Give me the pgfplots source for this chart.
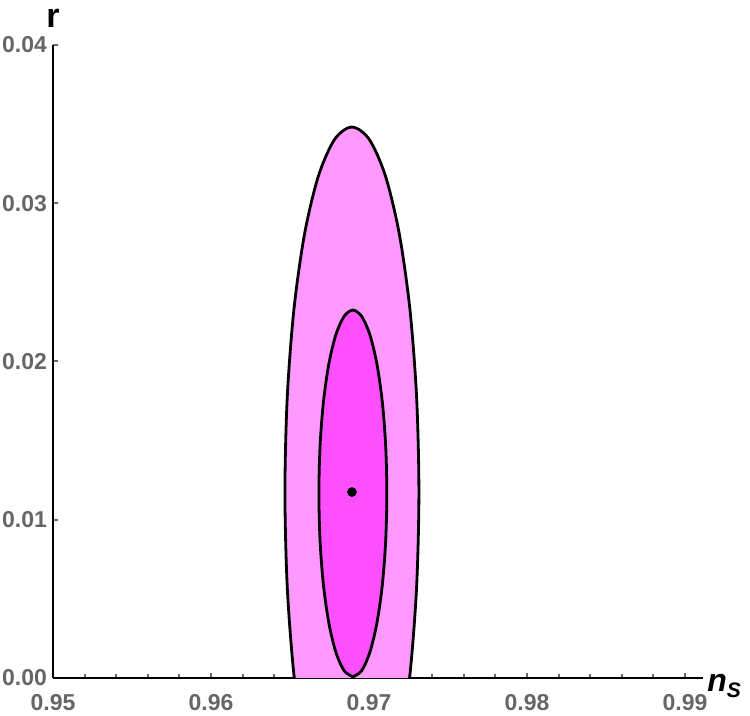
\documentclass[border=0pt]{standalone}
\usepackage{fontspec}
\setmainfont{Liberation Sans}
\usepackage{pgfplots}
\pgfplotsset{compat=1.18}
\definecolor{outerPink}{RGB}{255,153,255}
\definecolor{innerPink}{RGB}{255,80,255}
\definecolor{tickGray}{RGB}{102,102,102}

\begin{document}
\begin{tikzpicture}
\begin{axis}[
    scale only axis,
    width=325pt, height=316.5pt,
    xmin=0.95, xmax=0.99114,
    ymin=0, ymax=0.04,
    axis lines=left,
    axis line style={-, line width=1.4pt, black},
    xtick={0.95,0.96,0.97,0.98,0.99},
    ytick={0,0.01,0.02,0.03,0.04},
    minor x tick num=4,
    tick align=inside,
    major tick length=2.5pt,
    minor tick length=2pt,
    tick style={tickGray, line width=1pt},
    scaled x ticks=false, scaled y ticks=false,
    /pgf/number format/assume math mode=true,
    /pgf/number format/.cd, fixed, precision=2, fixed zerofill, /pgfplots/.cd,
    ticklabel style={font=\fontsize{11.5}{14}\selectfont\bfseries, text=tickGray},
    yticklabel style={xshift=0.5pt},
    xticklabel style={yshift=-4.5pt},
    xlabel={\fontsize{16}{18}\selectfont\bfseries\itshape n\raisebox{-0.35ex}{\fontsize{10.5}{12}\selectfont S}},
    xlabel style={at={(axis description cs:1,0)}, anchor=west, xshift=1pt, yshift=-4pt, inner sep=1pt},
    ylabel={\fontsize{17}{19}\selectfont\bfseries r},
    ylabel style={at={(axis description cs:0,1.027)}, anchor=base, rotate=-90},
]
% outer contour
\addplot[fill=outerPink, draw=black, line width=1.4pt, smooth] coordinates {
 (0.96892,-0.01132) (0.970017,-0.010533) (0.97104,-0.008229) (0.971918,-0.004563)
 (0.972592,0.000215) (0.973015,0.005779) (0.97316,0.01175) (0.973015,0.017721)
 (0.972592,0.023285) (0.971918,0.028063) (0.97104,0.031729) (0.970017,0.034033)
 (0.96892,0.03482) (0.967823,0.034033) (0.9668,0.031729) (0.965922,0.028063)
 (0.965248,0.023285) (0.964825,0.017721) (0.96468,0.01175) (0.964825,0.005779)
 (0.965248,0.000215) (0.965922,-0.004563) (0.9668,-0.008229) (0.967823,-0.010533)
 (0.96892,-0.01132)
} -- cycle;
% inner contour
\addplot[fill=innerPink, draw=black, line width=1.4pt, smooth] coordinates {
 (0.96898,0.00007) (0.969536,0.000465) (0.970055,0.001623) (0.9705,0.003465)
 (0.970842,0.005865) (0.971057,0.00866) (0.97113,0.01166) (0.971057,0.01466)
 (0.970842,0.017455) (0.9705,0.019855) (0.970055,0.021697) (0.969536,0.022855)
 (0.96898,0.02325) (0.968424,0.022855) (0.967905,0.021697) (0.96746,0.019855)
 (0.967118,0.017455) (0.966903,0.01466) (0.96683,0.01166) (0.966903,0.00866)
 (0.967118,0.005865) (0.96746,0.003465) (0.967905,0.001623) (0.968424,0.000465)
 (0.96898,0.00007)
} -- cycle;
% best fit
\addplot[only marks, mark=*, mark size=2.2pt, black] coordinates {(0.96892,0.01175)};
\end{axis}
\pgfresetboundingbox
\path ([xshift=-26.5pt,yshift=-19pt]current axis.south west)
      rectangle ([xshift=23.5pt,yshift=22.5pt]current axis.north east);
\end{tikzpicture}
\end{document}
